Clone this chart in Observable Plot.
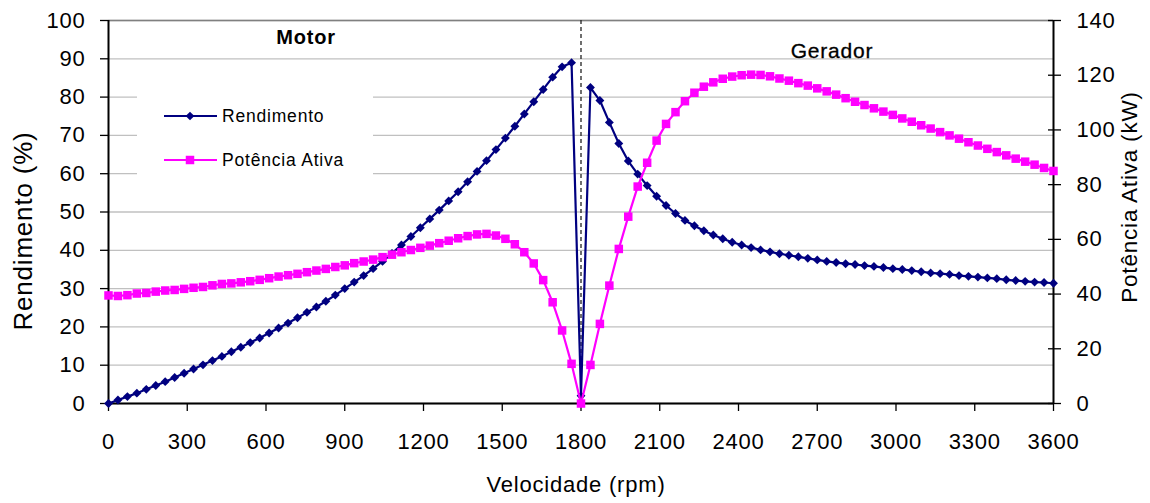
<!DOCTYPE html>
<html><head><meta charset="utf-8">
<script src="https://cdn.jsdelivr.net/npm/d3@7"></script>
<script src="https://cdn.jsdelivr.net/npm/@observablehq/plot@0.6"></script>
<style>body{margin:0;background:#fff}</style>
</head><body><div id="chart"></div>
<script>
// Velocidade (rpm)
const rpm = [0,36,72,108,144,180,216,252,288,324,360,396,432,468,504,540,576,612,648,684,720,756,792,828,864,900,936,972,1008,1044,1080,1116,1152,1188,1224,1260,1296,1332,1368,1404,1440,1476,1512,1548,1584,1620,1656,1692,1728,1764,1800,
  1836,1872,1908,1944,1980,2016,2052,2088,2124,2160,2196,2232,2268,2304,2340,2376,2412,2448,2484,2520,2556,2592,2628,2664,2700,2736,2772,2808,2844,2880,2916,2952,2988,3024,3060,3096,3132,3168,3204,3240,3276,3312,3348,3384,3420,3456,3492,3528,3564,3600];
// Rendimento (%)
const rendimento = [0,0.9,1.8,2.7,3.7,4.7,5.7,6.8,7.9,9.0,
  10.1,11.2,12.3,13.5,14.7,15.9,17.1,18.4,19.7,21.0,
  22.4,23.8,25.2,26.7,28.3,30.0,31.7,33.4,35.2,37.1,
  39.2,41.4,43.6,45.9,48.2,50.5,52.9,55.3,57.9,60.6,
  63.4,66.3,69.3,72.4,75.6,78.8,82.0,85.2,87.9,89.0,
  2.0,
  82.5,79.1,73.4,67.9,63.3,59.9,56.9,54.1,51.7,49.6,
  47.8,46.4,45.1,44.0,43.0,42.1,41.4,40.7,40.1,39.6,
  39.1,38.7,38.3,37.9,37.5,37.1,36.8,36.5,36.3,36.0,
  35.8,35.5,35.2,35.0,34.7,34.4,34.1,33.9,33.7,33.4,
  33.2,33.0,32.8,32.6,32.3,32.1,31.9,31.7,31.6,31.4];
// Potência Ativa (kW)
const potencia = [39.5,39.3,39.6,40.2,40.4,40.9,41.3,41.5,41.9,42.3,
  42.6,43.2,43.7,43.9,44.3,44.7,45.2,45.8,46.4,46.9,
  47.4,48.0,48.6,49.2,49.9,50.5,51.3,51.9,52.6,53.5,
  54.4,55.3,56.1,56.9,57.7,58.6,59.5,60.4,61.2,61.8,
  62.0,61.4,60.2,58.2,55.3,51.2,45.1,37.0,26.7,14.5,
  0,
  14.1,29.1,43.1,56.5,68.3,79.3,88.0,96.1,102.2,106.5,
  110.5,113.6,115.8,117.4,118.7,119.5,120.0,120.2,120.1,119.6,
  118.8,118.0,117.1,116.2,115.2,114.1,112.9,111.6,110.3,109.1,
  107.9,106.7,105.5,104.2,103.0,101.7,100.5,99.2,98.0,96.8,
  95.5,94.3,93.1,91.9,90.7,89.5,88.4,87.3,86.1,85.0];

const xTicks = [0,300,600,900,1200,1500,1800,2100,2400,2700,3000,3300,3600];
const yLeftTicks = [0,10,20,30,40,50,60,70,80,90,100];
const yRightTicks = [0,20,40,60,80,100,120,140];
const seriesNames = ["Rendimento", "Potência Ativa"];
const seriesColors = ["#000080", "#ff00ff"];
const regionLabels = ["Motor", "Gerador"];
const syncSpeed = [1800];
const xTitle = "Velocidade (rpm)";
const yLeftTitle = "Rendimento (%)";
const yRightTitle = "Potência Ativa (kW)";

const yMax = 100, potMax = 140, k = yMax / potMax;
const data = rpm.map((r, i) => ({rpm: r, rend: rendimento[i], pot: potencia[i]}));
const font = "'Liberation Sans', Arial, sans-serif";
const rightTickVals = yRightTicks.map(v => v * k);

const svg = Plot.plot({
  width: 1150, height: 503,
  marginLeft: 108, marginRight: 97, marginTop: 20, marginBottom: 100,
  style: {fontFamily: font, fontSize: "22px", background: "#fff", color: "#000", overflow: "visible", letterSpacing: "0.8px"},
  x: {domain: [0, 3600]},
  y: {domain: [0, yMax]},
  marks: [
    Plot.gridY(yLeftTicks, {stroke: "#c0c0c0", strokeOpacity: 1, strokeWidth: 1.3}),
    Plot.ruleY([yMax], {stroke: "#808080", strokeWidth: 1.6}),
    Plot.ruleX(syncSpeed, {stroke: "#222", strokeDasharray: "4,3", strokeWidth: 1.3}),
    Plot.axisX({ticks: xTicks, tickSize: 8, tickPadding: 22, label: null, fontSize: 22, tickFormat: d => String(d), strokeWidth: 1.3}),
    Plot.axisY({ticks: yLeftTicks, tickSize: 8, tickPadding: 15, label: null, fontSize: 22, tickFormat: d => String(d), strokeWidth: 1.3}),
    Plot.axisY({anchor: "right", ticks: rightTickVals, tickSize: 13, dx: -6, label: null, tickFormat: () => "", strokeWidth: 1.3}),
    Plot.axisY({anchor: "right", ticks: rightTickVals, tickSize: 0, tickPadding: 23, label: null, fontSize: 22, tickFormat: d => String(Math.round(d / k))}),
    Plot.ruleX([0], {stroke: "#000", strokeWidth: 2}),
    Plot.ruleX([3600], {stroke: "#000", strokeWidth: 2}),
    Plot.ruleY([0], {stroke: "#000", strokeWidth: 2}),
    Plot.line(data, {x: "rpm", y: "rend", stroke: seriesColors[0], strokeWidth: 2.2}),
    Plot.dot(data, {x: "rpm", y: "rend", symbol: "diamond2", r: 4, fill: seriesColors[0], stroke: "none"}),
    Plot.line(data, {x: "rpm", y: d => d.pot * k, stroke: seriesColors[1], strokeWidth: 2.2}),
    Plot.dot(data, {x: "rpm", y: d => d.pot * k, symbol: "square", r: 4.8, fill: seriesColors[1], stroke: "none"})
  ]
});
document.getElementById("chart").appendChild(svg);

const s = d3.select(svg);
// legend box
const lg = s.append("g");
lg.append("rect").attr("x", 137).attr("y", 72).attr("width", 236).attr("height", 124).attr("fill", "#fff");
const symbols = [d3.symbol(d3.symbolDiamond2, 48)(), d3.symbol(d3.symbolSquare, 72)()];
seriesNames.forEach((name, i) => {
  const y = 116 + i * 44;
  lg.append("line").attr("x1", 164).attr("x2", 217).attr("y1", y).attr("y2", y)
    .attr("stroke", seriesColors[i]).attr("stroke-width", 2.2);
  lg.append("path").attr("d", symbols[i]).attr("transform", `translate(190,${y})`).attr("fill", seriesColors[i]);
  lg.append("text").attr("x", 222).attr("y", y + 6).attr("text-anchor", "start").attr("font-size", 17.5)
    .attr("font-family", font).attr("fill", "#000").text(name);
});
// region labels
s.append("text").attr("x", 306).attr("y", 44).attr("text-anchor", "middle").attr("font-size", 20)
  .attr("font-weight", "bold").attr("font-family", font).text(regionLabels[0]);
s.append("text").attr("x", 832).attr("y", 58).attr("text-anchor", "middle").attr("font-size", 21)
  .attr("font-family", font).attr("stroke", "#000").attr("stroke-width", 0.3).text(regionLabels[1]);
// axis titles
s.append("text").attr("x", 576).attr("y", 492).attr("text-anchor", "middle").attr("font-size", 22)
  .attr("font-family", font).text(xTitle);
s.append("text").attr("transform", "translate(32,231) rotate(-90)").attr("text-anchor", "middle")
  .attr("font-size", 26).attr("font-family", font).text(yLeftTitle);
s.append("text").attr("transform", "translate(1137,197) rotate(-90)").attr("text-anchor", "middle")
  .attr("font-size", 22.5).attr("font-family", font).text(yRightTitle);
</script>
</body></html>
